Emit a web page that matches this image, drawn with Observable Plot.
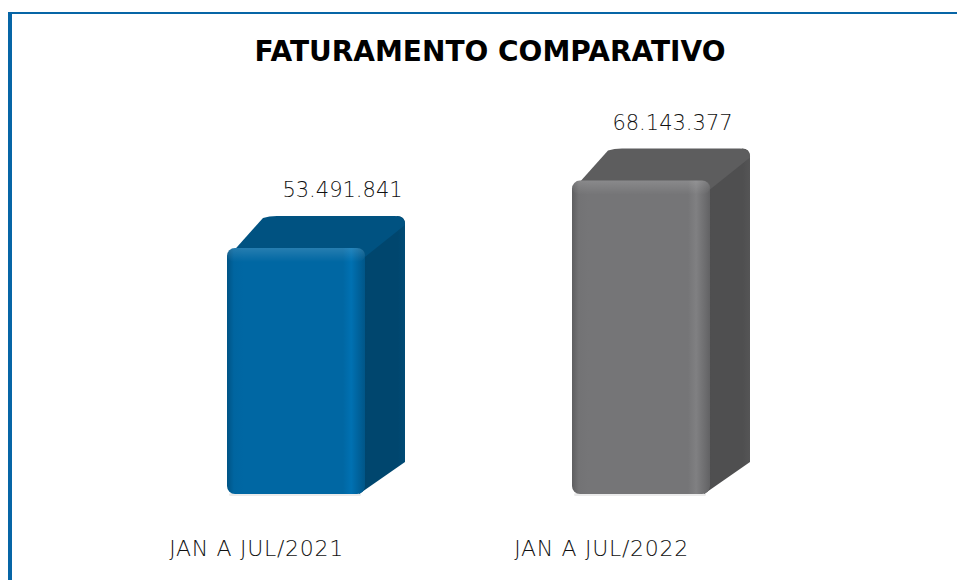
<!DOCTYPE html>
<html>
<head>
<meta charset="utf-8">
<script src="https://cdn.jsdelivr.net/npm/d3@7"></script>
<script src="https://cdn.jsdelivr.net/npm/@observablehq/plot@0.6"></script>
<style>
  html, body { margin: 0; padding: 0; background: #fff; width: 957px; height: 580px; overflow: hidden; }
  #frame { position: absolute; left: 8px; top: 12px; width: 960px; height: 580px;
           border-left: 4px solid #0765a6; border-top: 2px solid #0765a6; box-sizing: border-box; }
  #title { position: absolute; left: 8px; width: 964px; top: 38px; text-align: center;
           font-family: "DejaVu Sans", sans-serif; font-weight: bold; font-size: 28px; line-height: 28px; color: #000; }
  #chart { position: absolute; left: 0; top: 80px; }
  .catlab text { letter-spacing: 0.7px; }
</style>
</head>
<body>
<div id="frame"></div>
<div id="title">FATURAMENTO COMPARATIVO</div>
<div id="chart"></div>
<script>
// ---- data ----
const categories = ["JAN A JUL/2021", "JAN A JUL/2022"];
const values = [53491841, 68143377];
const palette = ["#0067a3", "#757577"];

const fmt = d3.formatLocale({decimal: ",", thousands: ".", grouping: [3], currency: ["R$ ", ""]}).format(",d");
const data = categories.map((c, i) => ({cat: c, value: values[i]}));

const DX = 40, DY = 32; // 3D depth offsets (style)

function bar3d(index, scales, vals, dimensions, context, next) {
  const g = d3.create("svg:g");
  const defs = g.append("defs");
  const bw = scales.x.bandwidth();
  for (const i of index) {
    const d = data[i];
    const x0 = scales.x(d.cat), x1 = x0 + bw;
    const yb = scales.y(0), yt = scales.y(d.value);
    const base = d3.color(scales.color(d.cat));
    const top = base.darker(0.65), side = base.darker(1.1);
    const gid = "g3d" + i, vid = "v3d" + i, sid = "s3d" + i;
    const lg = defs.append("linearGradient").attr("id", gid).attr("x1", 0).attr("x2", 1).attr("y1", 0).attr("y2", 0);
    [[0, base.darker(0.6)], [0.05, base.darker(0.05)], [0.12, base], [0.84, base], [0.9, base.brighter(0.25)], [0.95, base.darker(0.1)], [1, base.darker(0.5)]]
      .forEach(([o, c]) => lg.append("stop").attr("offset", o).attr("stop-color", c.formatHex()));
    const vg = defs.append("linearGradient").attr("id", vid).attr("x1", 0).attr("x2", 0).attr("y1", 0).attr("y2", 1);
    vg.append("stop").attr("offset", 0).attr("stop-color", "#fff").attr("stop-opacity", 0.15);
    vg.append("stop").attr("offset", 1).attr("stop-color", "#fff").attr("stop-opacity", 0);
    const sg = defs.append("linearGradient").attr("id", sid).attr("x1", 0).attr("x2", 1).attr("y1", 0).attr("y2", 0);
    [[0, side.darker(0.2)], [0.2, side], [0.85, side], [1, side.brighter(0.2)]]
      .forEach(([o, c]) => sg.append("stop").attr("offset", o).attr("stop-color", c.formatHex()));
    // faint shadow
    g.append("rect").attr("x", x0 + 2).attr("y", yb - 1).attr("width", bw - 6).attr("height", 3)
      .attr("fill", "#000").attr("opacity", 0.08).attr("rx", 1.5);
    // side face
    g.append("path")
      .attr("d", `M${x1 - 8},${yt + 6}L${x1 + DX - 8},${yt - DY}Q${x1 + DX},${yt - DY} ${x1 + DX},${yt - DY + 8}L${x1 + DX},${yb - DY}L${x1 - 6},${yb}Z`)
      .attr("fill", `url(#${sid})`);
    // top face
    g.append("path")
      .attr("d", `M${x0 + 2},${yt + 8}L${x0 + DX - 4},${yt - DY + 2}Q${x0 + DX + 2},${yt - DY} ${x0 + DX + 10},${yt - DY}L${x1 + DX - 10},${yt - DY}Q${x1 + DX},${yt - DY} ${x1 + DX},${yt - DY + 9}L${x1},${yt + 9}Z`)
      .attr("fill", top.formatHex());
    // front face
    g.append("rect").attr("x", x0).attr("y", yt).attr("width", bw).attr("height", yb - yt)
      .attr("rx", 8).attr("fill", `url(#${gid})`);
    g.append("rect").attr("x", x0).attr("y", yt).attr("width", bw).attr("height", 14)
      .attr("rx", 8).attr("fill", `url(#${vid})`);
  }
  return g.node();
}

const fontFamily = "'DejaVu Sans', sans-serif";

const chart = Plot.plot({
  width: 957,
  height: 500,
  marginLeft: 40,
  marginRight: 60,
  marginTop: 46,
  marginBottom: 86,
  x: {domain: categories, paddingInner: 0.6, paddingOuter: 0.542, axis: null},
  y: {domain: [0, 80e6], axis: null},
  color: {domain: categories, range: palette},
  style: {fontFamily, background: "transparent", overflow: "visible"},
  marks: [
    Plot.barY(data, {x: "cat", y: "value", fill: "cat", render: bar3d}),
    Plot.text(data.slice(0, 1), {x: "cat", y: "value", text: d => fmt(d.value), dx: 46, dy: -58,
      fontSize: 21, fill: "#111", fontWeight: 300}),
    Plot.text(data.slice(1, 2), {x: "cat", y: "value", text: d => fmt(d.value), dx: 31, dy: -58,
      fontSize: 21, fill: "#111", fontWeight: 300}),
    Plot.text(data, {x: "cat", frameAnchor: "bottom", text: "cat", dx: -40, dy: 61,
      fontSize: 22, fill: "#111", fontWeight: 300, className: "catlab"})
  ]
});
document.getElementById("chart").appendChild(chart);
</script>
</body>
</html>
